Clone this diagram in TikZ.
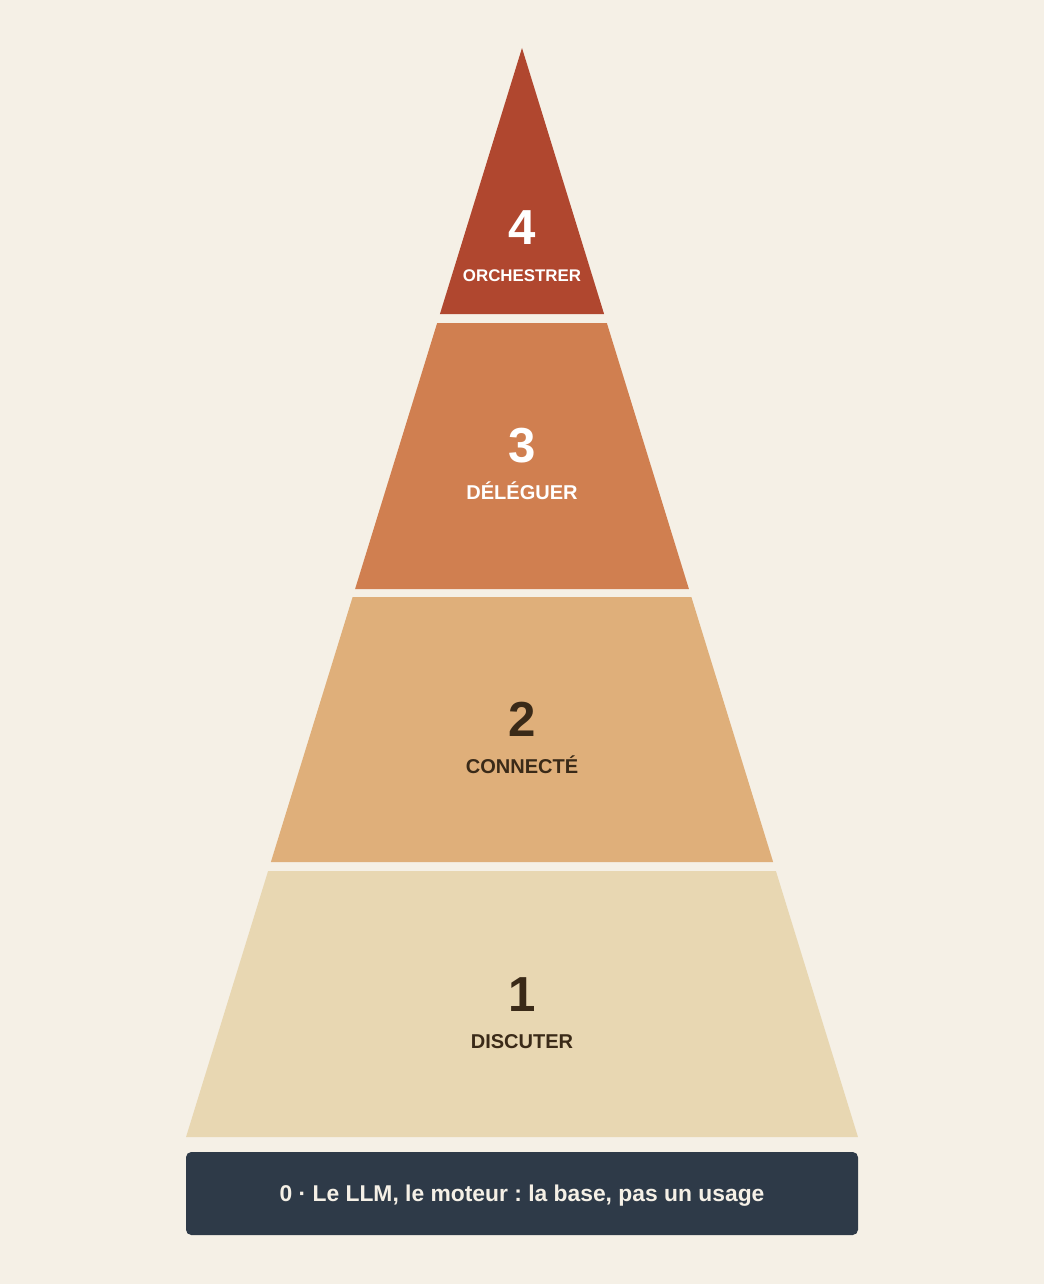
\documentclass[tikz,border=0pt]{standalone}
\usepackage{fontspec}
\setmainfont{Liberation Sans}
\usetikzlibrary{positioning}
\frenchspacing

\definecolor{bgcream}{HTML}{F5F0E6}
\definecolor{lvlfour}{HTML}{B0472F}
\definecolor{lvlthree}{HTML}{D07F50}
\definecolor{lvltwo}{HTML}{DFAF7A}
\definecolor{lvlone}{HTML}{E8D7B2}
\definecolor{basedark}{HTML}{2E3A48}
\definecolor{darktxt}{HTML}{3A2A18}

\begin{document}
\begin{tikzpicture}[x=0.02cm, y=-0.02cm,
    num/.style={
    inner sep=0pt,
    anchor=base,
    font=\fontsize{28}{28}\selectfont\bfseries}, % Big level digit.
    lbl/.style={
    inner sep=0pt,
    anchor=base,
    font=\fontsize{#1}{12}\selectfont\bfseries}, % Level name.
    basebox/.style={
    fill=basedark,
    rounded corners=3pt,
    minimum width=672*0.02cm,
    minimum height=83*0.02cm,
    text depth=0pt,
    text=bgcream,
    font=\fontsize{13}{14}\selectfont\bfseries}]

        % Background.
        \fill[bgcream] (0,0) rectangle (1044,1284);

        % Layers (apex at 522/48).
        \foreach \t/\b/\col in {48/314/lvlfour, 323/589/lvlthree, 597/862/lvltwo, 871/1137/lvlone}
        \fill[\col] ({522-0.3085*(\t-48)},\t) -- ({522+0.3085*(\t-48)},\t)
            -- ({522+0.3085*(\b-48)},\b) -- ({522-0.3085*(\b-48)},\b) -- cycle;

        % Level texts.
        \foreach \n/\y/\txt/\c/\s in {4/227/ORCHESTRER/white/9.6, 3/445/DÉLÉGUER/white/11.4,
            2/719/CONNECTÉ/darktxt/11.4, 1/994/DISCUTER/darktxt/11.4}
        {
        \node[num, text=\c] (n\n) at (522,\y+17) {\n};
        \node[lbl=\s, text=\c] (l\n) at (522,\y+54) {\txt};
        }

        % Base.
        \node[basebox] (base) at (522,1193.5) {0 · Le LLM, le moteur : la base, pas un usage};
    \end{tikzpicture}
\end{document}
